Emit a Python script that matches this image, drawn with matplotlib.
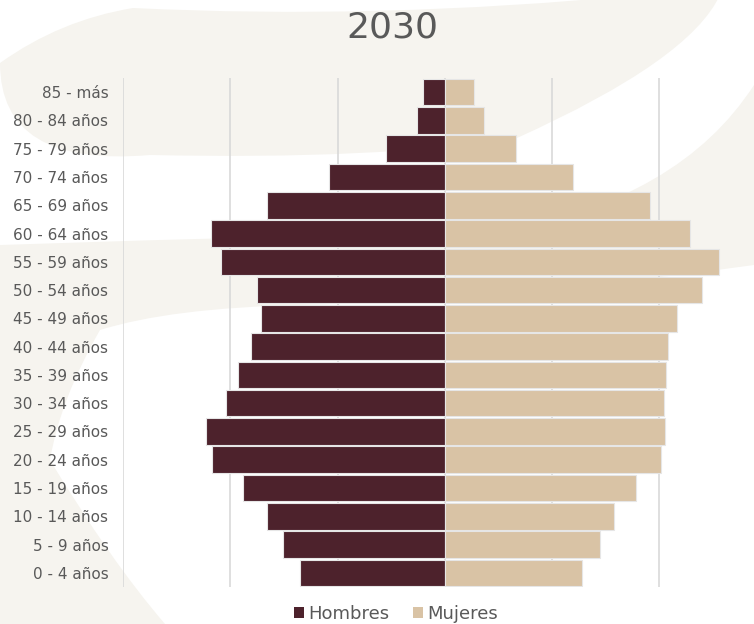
import matplotlib
matplotlib.use("Agg")
import matplotlib.pyplot as plt
from matplotlib.path import Path
from matplotlib.patches import PathPatch, Patch

# age groups, top to bottom as in the chart
grupos = ["85 - más", "80 - 84 años", "75 - 79 años", "70 - 74 años", "65 - 69 años",
          "60 - 64 años", "55 - 59 años", "50 - 54 años", "45 - 49 años", "40 - 44 años",
          "35 - 39 años", "30 - 34 años", "25 - 29 años", "20 - 24 años", "15 - 19 años",
          "10 - 14 años", "5 - 9 años", "0 - 4 años"]
# share of population (%)
hombres = [0.20, 0.26, 0.55, 1.08, 1.66, 2.18, 2.09, 1.75, 1.71, 1.81,
           1.93, 2.04, 2.23, 2.17, 1.88, 1.66, 1.51, 1.35]
mujeres = [0.27, 0.37, 0.66, 1.20, 1.91, 2.29, 2.56, 2.40, 2.17, 2.08,
           2.06, 2.04, 2.05, 2.02, 1.78, 1.58, 1.45, 1.28]
grid_x = [-3, -2, -1, 0, 1, 2, 3]

c_hom = "#4D222C"
c_muj = "#D9C3A5"
c_txt = "#595959"
c_bg = "#F6F4EF"

W, H = 754, 624
fig = plt.figure(figsize=(W / 100, H / 100), dpi=100)
fig.patch.set_facecolor("white")

# decorative background shapes (pixel coords, y down)
bg = fig.add_axes([0, 0, 1, 1], zorder=0)
bg.set_xlim(0, W)
bg.set_ylim(H, 0)
bg.axis("off")

C3 = Path.CURVE3
shapes = [
    # top band
    [(0, 63), (60, 20), (133, 8), (377, 20), (640, -5), (720, -5),
     (690, 60), (517, 138), (377, 160), (150, 155), (0, 168)],
    # lower swoosh, left edge to upper right
    [(0, 245), (300, 235), (500, 232), (680, 200), (754, 85), (754, 265),
     (500, 300), (300, 305), (170, 308), (100, 330), (60, 400), (50, 460),
     (110, 560), (165, 624), (0, 624)],
]
codes_list = [
    [Path.MOVETO, C3, C3, C3, C3, Path.LINETO, C3, C3, C3, C3, C3],
    [Path.MOVETO, C3, C3, C3, C3, Path.LINETO, C3, C3, C3, C3, C3, C3,
     C3, C3, Path.LINETO],
]
for verts, codes in zip(shapes, codes_list):
    bg.add_patch(PathPatch(Path(verts + [verts[0]], codes + [Path.CLOSEPOLY]),
                           facecolor=c_bg, edgecolor="none"))

# main pyramid
ax = fig.add_axes([123 / W, (H - 587) / H, 643.5 / W, 509 / H], zorder=1)
ax.patch.set_alpha(0)
y = list(range(len(grupos)))[::-1]

for gx in grid_x:
    ax.axvline(gx, color="#D9D9D9", lw=1.2, zorder=0)

ax.barh(y, [-v for v in hombres], height=0.94, color=c_hom,
        edgecolor="#E6E6E6", linewidth=0.8, zorder=2)
ax.barh(y, mujeres, height=0.94, color=c_muj,
        edgecolor="#E6E6E6", linewidth=0.8, zorder=2)

ax.set_xlim(-3, 3)
ax.set_ylim(-0.5, len(grupos) - 0.5)
ax.set_yticks(y)
ax.set_yticklabels(grupos, fontsize=11, color=c_txt)
ax.set_xticks([])
ax.tick_params(axis="y", length=0, pad=10.5)
for s in ax.spines.values():
    s.set_visible(False)

fig.text(392 / W, 1 - 28 / H, "2030", ha="center", va="center",
         fontsize=26, color=c_txt)

handles = [Patch(facecolor=c_hom, edgecolor="none"),
           Patch(facecolor=c_muj, edgecolor="none")]
fig.legend(handles, ["Hombres", "Mujeres"], loc="center",
           bbox_to_anchor=(396 / W, 1 - 614 / H), ncol=2, frameon=False,
           fontsize=13, labelcolor=c_txt, handlelength=0.55, handleheight=0.55,
           handletextpad=0.25, columnspacing=1.3)

fig.savefig("out.png", dpi=100)
